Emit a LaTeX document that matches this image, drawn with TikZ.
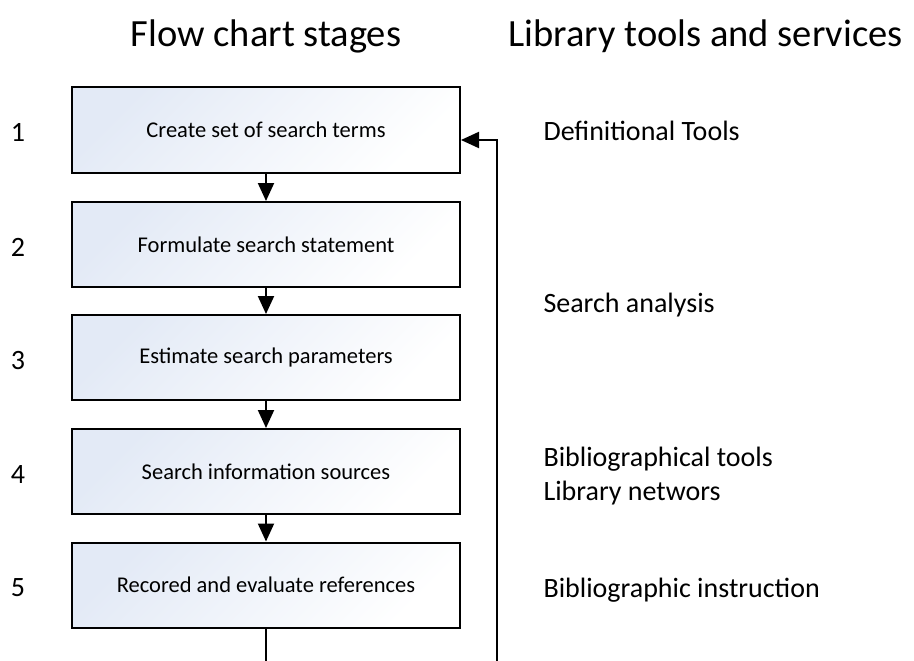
\documentclass[tikz,border=0pt]{standalone}
\usepackage{fontspec}
\setmainfont{Carlito}
\usetikzlibrary{arrows.meta,calc}
\definecolor{boxblue}{HTML}{E3EAF6}
\tikzset{
  stage/.style={draw=black, line width=2pt, minimum width=388pt, minimum height=85pt,
    top color=boxblue, bottom color=white, shading angle=45,
    font=\fontsize{22.5}{26}\selectfont, inner sep=0pt},
  flow/.style={line width=2pt, -{Triangle[length=18pt,width=16pt]}},
  plain/.style={line width=2pt},
  num/.style={font=\fontsize{28}{32}\selectfont, anchor=base},
  tool/.style={font=\fontsize{28}{32}\selectfont, anchor=base west},
  heading/.style={font=\fontsize{38.5}{44}\selectfont}
}
\begin{document}
\begin{tikzpicture}[x=1pt,y=-1pt]
\useasboundingbox (0,0) rectangle (914,661);

% column headings
\node[heading, anchor=base] (h1) at (266,47) {Flow chart stages};
\node[heading, anchor=base west] (h2) at (505,47) {Library tools and services};

% stages
\node[stage] (b1) at (266,130)   {Create set of search terms};
\node[stage] (b2) at (266,244.5) {Formulate search statement};
\node[stage] (b3) at (266,357.5) {Estimate search parameters};
\node[stage] (b4) at (266,471.5) {Search information sources};
\node[stage] (b5) at (266,585)   {Recored and evaluate references};

% stage numbers
\node[num] (n1) at (18,141.5) {1};
\node[num] (n2) at (18,256)   {2};
\node[num] (n3) at (18,369)   {3};
\node[num] (n4) at (18,483)   {4};
\node[num] (n5) at (18,596.5) {5};

% library tools
\node[tool] (t1) at (540,140) {Definitional Tools};
\node[tool] (t2) at (540,312) {Search analysis};
\node[tool] (t3) at (540,466) {Bibliographical tools};
\node[tool] (t4) at (540,500) {Library networs};
\node[tool] (t5) at (540,597) {Bibliographic instruction};

% flow between stages
\draw[flow] (b1) -- (b2);
\draw[flow] (b2) -- (b3);
\draw[flow] (b3) -- (b4);
\draw[flow] (b4) -- (b5);

% continuation and feedback loop
\coordinate (e5) at (266,661);
\coordinate (fb) at (497,661);
\coordinate (fbtop) at (497,140);
\draw[plain] (b5) -- (e5);
\draw[flow] (fb) -- (fbtop) -- (b1.east |- fbtop);
\end{tikzpicture}
\end{document}
